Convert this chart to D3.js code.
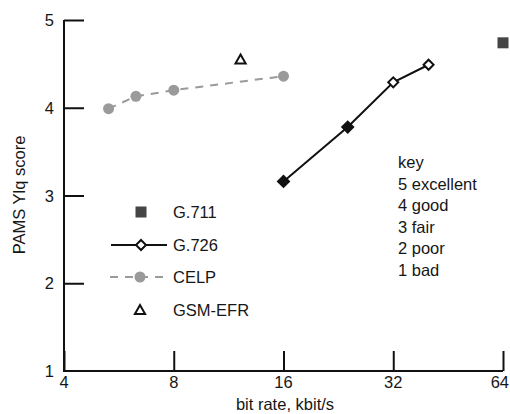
<!DOCTYPE html>
<html lang="en">
<head>
    <meta charset="UTF-8">
    <title>PAMS Ylq score vs bit rate</title>
    <style>
        body { margin: 0; background: #fff; }
        text {
            font-family: "Liberation Sans", Arial, sans-serif;
            font-size: 16.5px;
            fill: #161616;
        }
    </style>
</head>
<body>
    <div id="chart"></div>
    <script src="https://d3js.org/d3.v7.min.js"></script>
    <script>
        // data
        var xTicks = [4, 8, 16, 32, 64];
        var yTicks = [1, 2, 3, 4, 5];

        var g711 = [{rate: 64, score: 4.74}];
        var g726Rates = [16, 24, 32, 40];
        var g726Scores = [3.16, 3.78, 4.29, 4.49];
        var g726Filled = [true, true, false, false];
        var celpRates = [5.3, 6.3, 8, 16];
        var celpScores = [3.99, 4.13, 4.2, 4.36];
        var gsmEfr = [{rate: 12.2, score: 4.55}];

        var keyLines = ["key", "5 excellent", "4 good", "3 fair", "2 poor", "1 bad"];
        var legendNames = ["G.711", "G.726", "CELP", "GSM-EFR"];

        var width = 510, height = 414;
        var margin = {top: 20, right: 7, bottom: 43, left: 64};

        var svg = d3.select("#chart").append("svg")
            .attr("width", width)
            .attr("height", height);

        var x = d3.scaleLog().base(2)
            .domain([4, 64])
            .range([margin.left, width - margin.right]);

        var y = d3.scaleLinear()
            .domain([1, 5])
            .range([height - margin.bottom, margin.top]);

        // axes: ticks point inward
        var xAxis = svg.append("g")
            .attr("transform", "translate(0," + y(1) + ")")
            .call(d3.axisTop(x).tickValues(xTicks).tickSize(20).tickFormat(""));
        xAxis.selectAll("line").attr("stroke", "#111").attr("stroke-width", 2);
        xAxis.select(".domain").remove();

        var yAxis = svg.append("g")
            .attr("transform", "translate(" + x(4) + ",0)")
            .call(d3.axisRight(y).tickValues(yTicks.slice(1)).tickSize(20).tickFormat(""));
        yAxis.selectAll("line").attr("stroke", "#111").attr("stroke-width", 2);
        yAxis.select(".domain").remove();

        // axis lines
        svg.append("path")
            .attr("d", "M" + x(4) + "," + y(5) + "V" + y(1) + "H" + x(64))
            .attr("fill", "none")
            .attr("stroke", "#111")
            .attr("stroke-width", 2);

        // last label sits against the right edge
        svg.selectAll(".xlab").data(xTicks).enter().append("text")
            .attr("x", function(d, i) { return i == xTicks.length - 1 ? width - 1 : x(d); })
            .attr("y", y(1) + 17)
            .attr("text-anchor", function(d, i) { return i == xTicks.length - 1 ? "end" : "middle"; })
            .text(function(d) { return d; });

        svg.selectAll(".ylab").data(yTicks).enter().append("text")
            .attr("x", x(4) - 10)
            .attr("y", function(d) { return y(d) + 6; })
            .attr("text-anchor", "end")
            .text(function(d) { return d; });

        svg.append("text")
            .attr("x", 285)
            .attr("y", 410)
            .attr("text-anchor", "middle")
            .text("bit rate, kbit/s");

        svg.append("text")
            .attr("transform", "translate(25," + 195 + ") rotate(-90)")
            .attr("text-anchor", "middle")
            .text("PAMS Ylq score");

        // CELP
        var celp = celpRates.map(function(r, i) { return {rate: r, score: celpScores[i]}; });
        var line = d3.line()
            .x(function(d) { return x(d.rate); })
            .y(function(d) { return y(d.score); });

        svg.append("path")
            .datum(celp)
            .attr("d", line)
            .attr("fill", "none")
            .attr("stroke", "#9a9a9a")
            .attr("stroke-width", 2)
            .attr("stroke-dasharray", "8,7");

        svg.selectAll(".celp").data(celp).enter().append("circle")
            .attr("cx", function(d) { return x(d.rate); })
            .attr("cy", function(d) { return y(d.score); })
            .attr("r", 5.5)
            .attr("fill", "#9a9a9a");

        // G.726
        var g726 = g726Rates.map(function(r, i) { return {rate: r, score: g726Scores[i], filled: g726Filled[i]}; });
        svg.append("path")
            .datum(g726)
            .attr("d", line)
            .attr("fill", "none")
            .attr("stroke", "#111")
            .attr("stroke-width", 2);

        svg.selectAll(".g726").data(g726).enter().append("path")
            .attr("transform", function(d) { return "translate(" + x(d.rate) + "," + y(d.score) + ") rotate(45)"; })
            .attr("d", function(d) { return d3.symbol().type(d3.symbolSquare).size(d.filled ? 95 : 50)(); })
            .attr("fill", function(d) { return d.filled ? "#111" : "#fff"; })
            .attr("stroke", "#111")
            .attr("stroke-width", function(d) { return d.filled ? 0 : 2; });

        // G.711
        svg.selectAll(".g711").data(g711).enter().append("rect")
            .attr("x", function(d) { return x(d.rate) - 5.5; })
            .attr("y", function(d) { return y(d.score) - 5.5; })
            .attr("width", 11)
            .attr("height", 11)
            .attr("fill", "#454545");

        // GSM-EFR
        var tri = d3.symbol().type(d3.symbolTriangle).size(45);
        svg.selectAll(".gsm").data(gsmEfr).enter().append("path")
            .attr("transform", function(d) { return "translate(" + x(d.rate) + "," + (y(d.score) + 1) + ")"; })
            .attr("d", tri)
            .attr("fill", "#fff")
            .attr("stroke", "#111")
            .attr("stroke-width", 2);

        // legend
        var legY = [212, 245, 277, 310];
        var lg = svg.append("g");
        lg.append("rect").attr("x", 135.5).attr("y", legY[0] - 5.5).attr("width", 11).attr("height", 11).attr("fill", "#454545");
        lg.append("line").attr("x1", 111).attr("x2", 167).attr("y1", legY[1]).attr("y2", legY[1])
            .attr("stroke", "#111").attr("stroke-width", 2);
        lg.append("path").attr("transform", "translate(141," + legY[1] + ") rotate(45)")
            .attr("d", d3.symbol().type(d3.symbolSquare).size(50)())
            .attr("fill", "#fff").attr("stroke", "#111").attr("stroke-width", 2);
        lg.append("line").attr("x1", 110).attr("x2", 168).attr("y1", legY[2]).attr("y2", legY[2])
            .attr("stroke", "#9a9a9a").attr("stroke-width", 2).attr("stroke-dasharray", "8,7");
        lg.append("circle").attr("cx", 140).attr("cy", legY[2]).attr("r", 5.5).attr("fill", "#9a9a9a");
        lg.append("path").attr("transform", "translate(140," + (legY[3] + 1) + ")")
            .attr("d", tri).attr("fill", "#fff").attr("stroke", "#111").attr("stroke-width", 2);

        lg.selectAll("text").data(legendNames).enter().append("text")
            .attr("x", 173)
            .attr("y", function(d, i) { return legY[i] + 6; })
            .text(function(d) { return d; });

        // key
        svg.selectAll(".key").data(keyLines).enter().append("text")
            .attr("x", 398)
            .attr("y", function(d, i) { return 168 + i * 21.6; })
            .text(function(d) { return d; });
    </script>
</body>
</html>
